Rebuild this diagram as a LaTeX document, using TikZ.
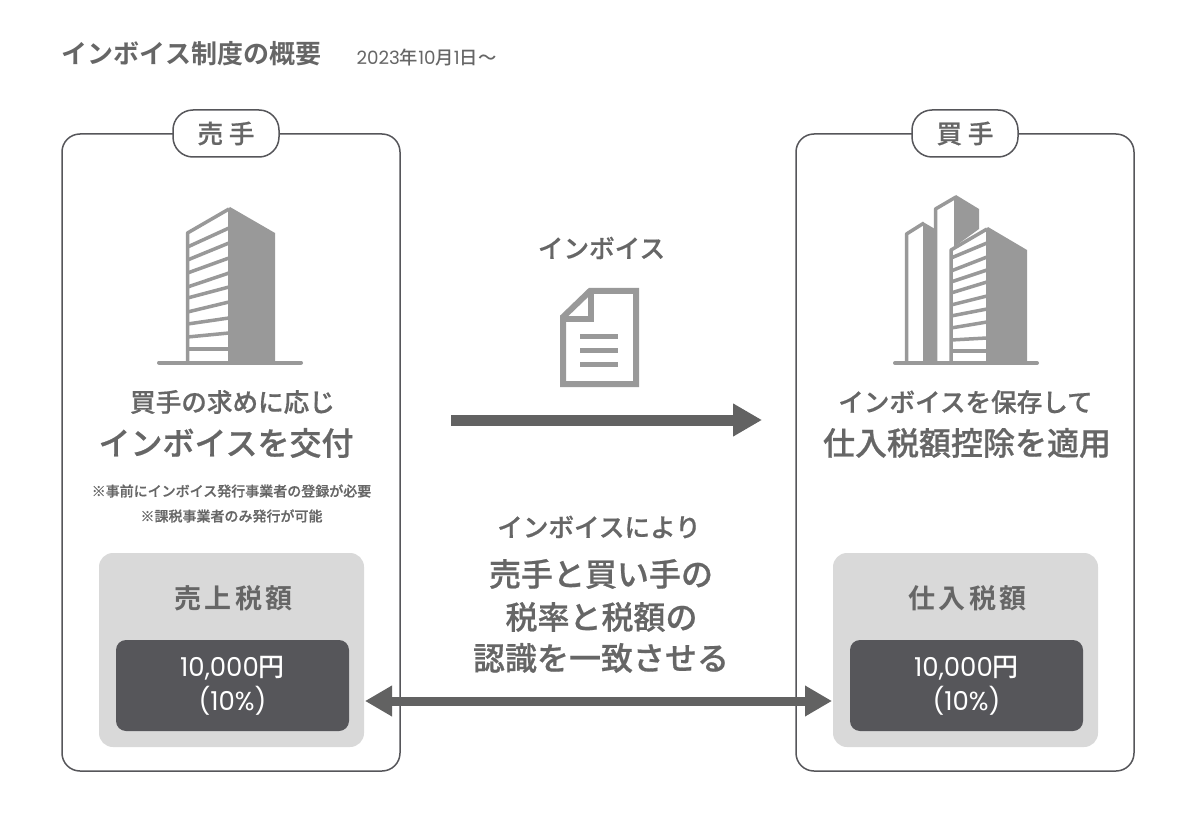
\documentclass[tikz,border=0pt]{standalone}
\usepackage{fontspec}
\setmainfont{Noto Sans CJK JP Medium}[BoldFont={Noto Sans CJK JP Bold}]
\newfontfamily\latinfont{Poppins}
\newfontfamily\heavyfont{Noto Sans CJK JP Medium}[FakeBold=0.6]
\usetikzlibrary{arrows.meta}
\definecolor{inktext}{HTML}{666666}
\definecolor{inkdark}{HTML}{56565A}
\definecolor{inkarrow}{HTML}{626262}
\definecolor{inkicon}{HTML}{999999}
\definecolor{inkpanel}{HTML}{D9D9D9}
\newcommand{\fsz}[1]{\fontsize{#1}{#1}\selectfont}

\begin{document}
\begin{tikzpicture}[
  x=1pt, y=-1pt,
  every node/.style={inner sep=0pt, text=inktext, font=\fsz{25}},
  partybox/.style={draw=inkdark, line width=1.5pt, rounded corners=18pt, fill=white, minimum width=338pt, minimum height=637pt},
  partytag/.style={draw=inkdark, line width=1.5pt, rounded corners=20pt, fill=white, minimum width=106pt, minimum height=47pt, font=\fsz{25.5}\heavyfont},
  taxpanel/.style={fill=inkpanel, rounded corners=14pt, minimum width=265pt, minimum height=194pt},
  taxlabel/.style={font=\fsz{27}\bfseries\addfontfeature{LetterSpace=13}},
  taxvalue/.style={fill=inkdark, rounded corners=10pt, minimum width=233pt, minimum height=91pt, text=white, font=\fsz{26}, align=center},
  biglabel/.style={font=\fsz{32}\heavyfont},
  midlabel/.style={font=\fsz{25.6}\heavyfont},
  smalllabel/.style={font=\fsz{14}\heavyfont},
  slat/.style={draw=inkicon, line width=3.5pt},
  bigarrow/.style={draw=inkarrow, line width=11pt, -{Triangle[length=29pt,width=31pt]}},
  syncarrow/.style={draw=inkarrow, line width=9pt, {Triangle[length=27pt,width=29pt]}-{Triangle[length=27pt,width=29pt]}}
]
\useasboundingbox (0,0) rectangle (1200,821);
\fill[white] (0,0) rectangle (1200,821);

\node[font=\fsz{26}\bfseries] (title) at (191.5,54) {インボイス制度の概要};
\node[font=\fsz{18.3}] (date) at (426.5,58) {{\latinfont 2023}年{\latinfont 10}月{\latinfont 1}日～};

\node[partybox] (seller) at (231,452.5) {};
\node[partybox] (buyer) at (965,452.5) {};
\node[partytag] (sellertag) at (226,133.5) {売 手};
\node[partytag] (buyertag) at (965,133.5) {買 手};

% seller building
\fill[inkicon] (228,209) -- (230,207) -- (275,233) -- (275,362) -- (228,362) -- cycle;
\draw[slat, line join=round] (187.5,362) -- (187.5,233) -- (229,209);
\foreach \yl/\yr in {247/228,260/243,273/258,287/273,298/287,312/302,324/318,337/333,349/349}
  \draw[slat] (187.5,\yl) -- (229,\yr);
\draw[inkicon, line width=4pt, line cap=round] (159,362.5) -- (301,362.5);

% buyer buildings
\fill[inkicon] (923,222) -- (935,229) -- (935,363) -- (923,363) -- cycle;
\draw[slat, line join=round] (906.5,363) -- (906.5,234) -- (924,223);
\fill[inkicon] (954,197) -- (956,195) -- (979,209) -- (979,229) -- (954,247) -- cycle;
\draw[slat, line join=round] (935.5,363) -- (935.5,209) -- (956,197);
\fill[inkicon] (986,229) -- (988,227) -- (1027,250) -- (1027,363) -- (986,363) -- cycle;
\draw[slat, line join=round] (951,363) -- (951,250) -- (987,229);
\foreach \yl/\yr in {258/243,271/257,282/270,293/282,305/296,316/309,328/322,340/338,351/351}
  \draw[slat] (951,\yl) -- (987,\yr);
\draw[inkicon, line width=4pt, line cap=round] (895,363) -- (1037,363);

% document icon
\draw[inkicon, line width=6pt, miter limit=4] (590,291) -- (636,291) -- (636,384) -- (563,384) -- (563,317) -- cycle;
\draw[inkicon, line width=6pt] (591,291) -- (591,319) -- (563,319);
\foreach \yy in {336,350,364}
  \draw[inkicon, line width=5pt] (580,\yy) -- (618,\yy);

\node[midlabel] (invoicelabel) at (601.5,248) {インボイス};
\coordinate (sendfrom) at (451,420);
\coordinate (sendto) at (762,420);
\draw[bigarrow] (sendfrom) -- (sendto);

\node[midlabel] (sellerline) at (232.5,402) {買手の求めに応じ};
\node[biglabel] (sellerissue) at (226,443) {インボイスを交付};
\node[smalllabel] (sellernotea) at (231.5,491) {※事前にインボイス発行事業者の登録が必要};
\node[smalllabel] (sellernoteb) at (231.5,516) {※課税事業者のみ発行が可能};

\node[midlabel] (buyerline) at (965.5,402) {インボイスを保存して};
\node[biglabel] (buyercredit) at (967,443) {仕入税額控除を適用};

\node[taxpanel] (sellerpanel) at (231.5,650) {};
\node[taxpanel] (buyerpanel) at (965.5,650) {};
\node[taxlabel] (sellertax) at (233.5,598) {売上税額};
\node[taxlabel] (buyertax) at (967.5,598) {仕入税額};
\node[taxvalue] (sellervalue) at (232.5,685.5) {{\latinfont 10,000}円\\[5pt]{\latinfont (10\%)}};
\node[taxvalue] (buyervalue) at (966.5,685.5) {{\latinfont 10,000}円\\[5pt]{\latinfont (10\%)}};

\node[midlabel] (resultlead) at (599,527) {インボイスにより};
\node[biglabel] (resulta) at (601,574) {売手と買い手の};
\node[biglabel] (resultb) at (601.5,617) {税率と税額の};
\node[biglabel] (resultc) at (601,658) {認識を一致させる};

\coordinate (syncleft) at (365,701);
\coordinate (syncright) at (832,701);
\draw[syncarrow] (syncleft) -- (syncright);
\end{tikzpicture}
\end{document}
